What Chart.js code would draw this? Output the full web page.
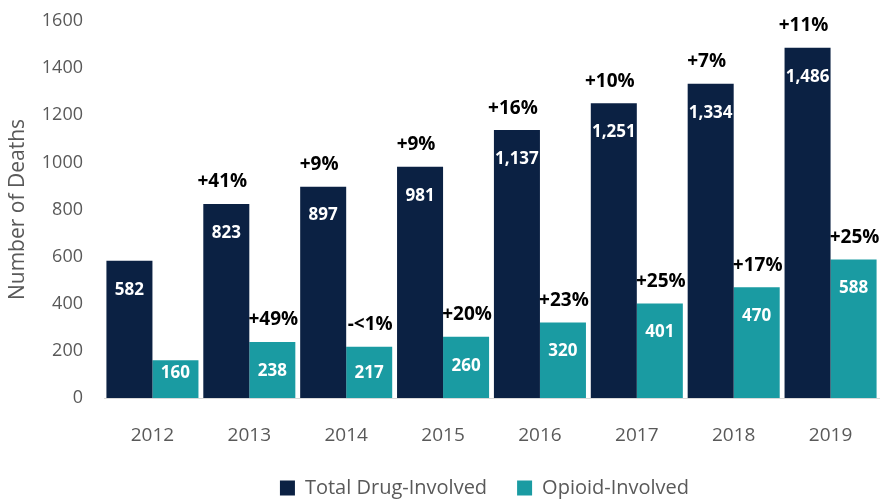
<!DOCTYPE html>
<html>
<head>
<meta charset="utf-8">
<script src="https://cdn.jsdelivr.net/npm/chart.js@4"></script>
<style>
  html, body { margin: 0; padding: 0; background: #fff; }
  #wrap { width: 882px; height: 499px; }
</style>
</head>
<body>
<div id="wrap"><canvas id="myChart"></canvas></div>
<script>
var years = ['2012', '2013', '2014', '2015', '2016', '2017', '2018', '2019'];
var totalDrug = [582, 823, 897, 981, 1137, 1251, 1334, 1486];
var opioid = [160, 238, 217, 260, 320, 401, 470, 588];
var totalChange = ['', '+41%', '+9%', '+9%', '+16%', '+10%', '+7%', '+11%'];
var opioidChange = ['', '+49%', '-<1%', '+20%', '+23%', '+25%', '+17%', '+25%'];

var fontName = "'Open Sans', 'Noto Sans', sans-serif";

// draws the values inside the bars and the yearly change above them
var barLabels = {
    id: 'barLabels',
    afterLayout: function(chart) {
        // nudge the legend a little left, as in the original
        chart.legend.left -= 7;
        chart.legend.right -= 7;
    },
    afterDatasetsDraw: function(chart) {
        var ctx = chart.ctx;
        var base = chart.scales.y.getPixelForValue(0);
        var changes = [totalChange, opioidChange];
        chart.data.datasets.forEach(function(ds, i) {
            var meta = chart.getDatasetMeta(i);
            meta.data.forEach(function(bar, j) {
                ctx.save();
                ctx.textAlign = 'center';
                ctx.textBaseline = 'middle';
                ctx.fillStyle = '#ffffff';
                ctx.font = 'bold 17px ' + fontName;
                var y = Math.min(bar.y + 29, base - 25);
                ctx.fillText(ds.data[j].toLocaleString('en-US'), bar.x, y);
                if (changes[i][j]) {
                    ctx.fillStyle = '#000000';
                    ctx.font = 'bold 19px ' + fontName;
                    var dx = i === 0 ? -4 : 1;
                    ctx.fillText(changes[i][j], bar.x + dx, bar.y - 22);
                }
                ctx.restore();
            });
        });
    }
};

var ctx = document.getElementById('myChart').getContext('2d');
var myChart = new Chart(ctx, {
    type: 'bar',
    data: {
        labels: years,
        datasets: [{
            label: 'Total Drug-Involved',
            data: totalDrug,
            backgroundColor: '#0b2143'
        },
        {
            label: 'Opioid-Involved',
            data: opioid,
            backgroundColor: '#1a9ba2'
        }]
    },
    options: {
        responsive: true,
        maintainAspectRatio: false,
        animation: false,
        datasets: {
            bar: {
                categoryPercentage: 0.95,
                barPercentage: 1.0
            }
        },
        layout: {
            padding: { top: 21, right: 3, left: 0, bottom: 0 }
        },
        plugins: {
            legend: {
                position: 'bottom',
                fullSize: false,
                maxHeight: 51,
                labels: {
                    boxWidth: 15,
                    boxHeight: 15,
                    padding: 30,
                    color: '#595959',
                    font: { family: fontName, size: 20 }
                }
            },
            tooltip: { enabled: false }
        },
        scales: {
            x: {
                grid: { display: false, drawTicks: false },
                border: { display: true, color: '#d9d9d9', width: 1 },
                afterFit: function(scale) {
                    scale.height = 50;
                },
                ticks: {
                    color: '#595959',
                    padding: 26,
                    font: { family: fontName, size: 19 }
                }
            },
            y: {
                min: 0,
                max: 1600,
                grid: { display: false, drawTicks: false },
                border: { display: false },
                afterFit: function(scale) {
                    scale.width = 104;
                    scale.paddingTop = 0;
                },
                ticks: {
                    stepSize: 200,
                    color: '#595959',
                    padding: 21,
                    font: { family: fontName, size: 18 },
                    callback: function(value) { return String(value); }
                },
                title: {
                    display: true,
                    text: 'Number of Deaths',
                    color: '#595959',
                    padding: { top: 5, bottom: 4 },
                    font: { family: fontName, size: 21 }
                }
            }
        }
    },
    plugins: [barLabels]
});
</script>
</body>
</html>
